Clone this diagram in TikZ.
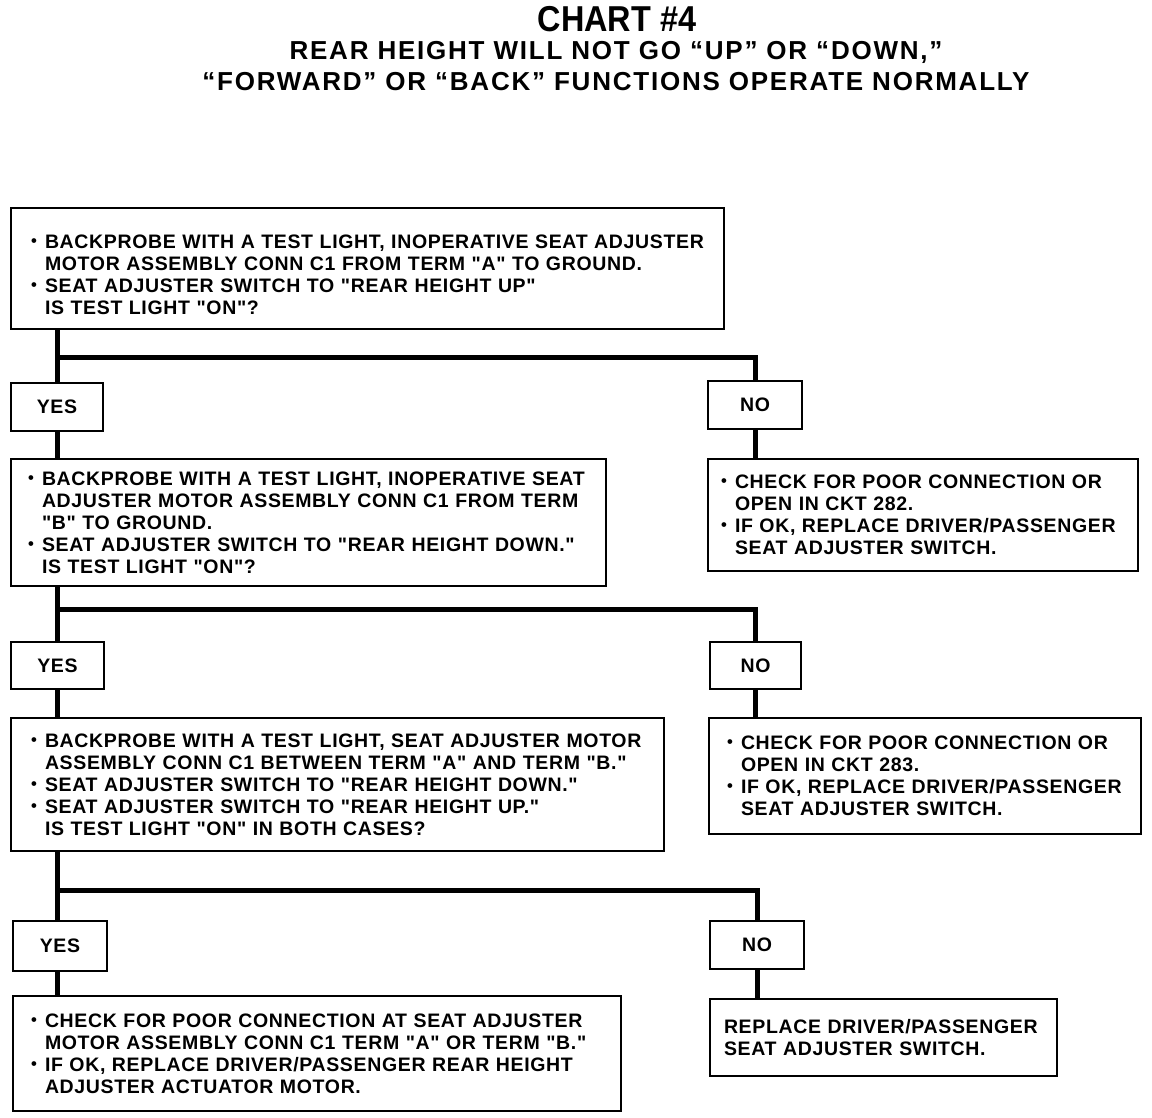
\documentclass[tikz,border=0pt]{standalone}
\usepackage{fontspec}
\setmainfont{Liberation Sans}[Ligatures=TeXOff]
\newfontfamily\bodyf{Liberation Sans}[Ligatures=TeXOff, LetterSpace=3.4]
\newfontfamily\subf{Liberation Sans}[LetterSpace=6.8]
\newcommand{\bl}{\makebox[14pt][l]{\raisebox{2.2pt}{\scalebox{0.85}{\textbullet}}}}
\newcommand{\ind}{\hspace*{14pt}}
\tikzset{
  txtbox/.style={draw, line width=2pt, anchor=north west, inner ysep=0pt, align=left,
    font=\bodyf\bfseries\fontsize{19.5}{22}\selectfont},
  ansbox/.style={draw, line width=2pt, anchor=north west, inner sep=0pt,
    font=\bodyf\bfseries\fontsize{19.5}{22}\selectfont},
  conn/.style={line width=5pt},
  ttl/.style={font=\bfseries\fontsize{36}{40}\selectfont},
  sub/.style={font=\subf\bfseries\fontsize{26}{30}\selectfont}
}
\begin{document}
\begin{tikzpicture}[x=1pt,y=-1pt]
\useasboundingbox (0,0) rectangle (1152,1118);
% titles
\node[ttl, xscale=0.9] (t0) at (617,19) {CHART \#4};
\node[sub] (t1) at (616,52) {REAR HEIGHT WILL NOT GO “UP” OR “DOWN,”};
\node[sub] (t2) at (616,82) {“FORWARD” OR “BACK” FUNCTIONS OPERATE NORMALLY};
% question boxes
\node[txtbox, minimum width=713pt, minimum height=121pt, text width=673pt, inner xsep=20pt] (q1) at (10,207)
  {\rule{0pt}{26pt}\bl BACKPROBE WITH A TEST LIGHT, INOPERATIVE SEAT ADJUSTER\\
   \ind MOTOR ASSEMBLY CONN C1 FROM TERM "A" TO GROUND.\\
   \bl SEAT ADJUSTER SWITCH TO "REAR HEIGHT UP"\\
   \ind IS TEST LIGHT "ON"?};
\node[ansbox, minimum width=92pt, minimum height=48pt] (y1) at (10,382) {YES};
\node[ansbox, minimum width=94pt, minimum height=48pt] (n1) at (707,380) {NO};
\node[txtbox, minimum width=595pt, minimum height=127pt, text width=561pt, inner xsep=17pt] (q2) at (10,458)
  {\bl BACKPROBE WITH A TEST LIGHT, INOPERATIVE SEAT\\
   \ind ADJUSTER MOTOR ASSEMBLY CONN C1 FROM TERM\\
   \ind "B" TO GROUND.\\
   \bl SEAT ADJUSTER SWITCH TO "REAR HEIGHT DOWN."\\
   \ind IS TEST LIGHT "ON"?};
\node[txtbox, minimum width=430pt, minimum height=112pt, text width=404pt, inner xsep=13pt] (a1) at (707,458)
  {\bl CHECK FOR POOR CONNECTION OR\\
   \ind OPEN IN CKT 282.\\
   \bl IF OK, REPLACE DRIVER/PASSENGER\\
   \ind SEAT ADJUSTER SWITCH.};
\node[ansbox, minimum width=93pt, minimum height=47pt] (y2) at (10,641) {YES};
\node[ansbox, minimum width=91pt, minimum height=47pt] (n2) at (709,641) {NO};
\node[txtbox, minimum width=653pt, minimum height=133pt, text width=613pt, inner xsep=20pt] (q3) at (10,717)
  {\bl BACKPROBE WITH A TEST LIGHT, SEAT ADJUSTER MOTOR\\
   \ind ASSEMBLY CONN C1 BETWEEN TERM "A" AND TERM "B."\\
   \bl SEAT ADJUSTER SWITCH TO "REAR HEIGHT DOWN."\\
   \bl SEAT ADJUSTER SWITCH TO "REAR HEIGHT UP."\\
   \ind IS TEST LIGHT "ON" IN BOTH CASES?};
\node[txtbox, minimum width=432pt, minimum height=116pt, text width=396pt, inner xsep=18pt] (a2) at (708,717)
  {\bl CHECK FOR POOR CONNECTION OR\\
   \ind OPEN IN CKT 283.\\
   \bl IF OK, REPLACE DRIVER/PASSENGER\\
   \ind SEAT ADJUSTER SWITCH.};
\node[ansbox, minimum width=94pt, minimum height=50pt] (y3) at (12,920) {YES};
\node[ansbox, minimum width=94pt, minimum height=48pt] (n3) at (709,920) {NO};
\node[txtbox, minimum width=608pt, minimum height=115pt, text width=572pt, inner xsep=18pt] (a4) at (12,995)
  {\bl CHECK FOR POOR CONNECTION AT SEAT ADJUSTER\\
   \ind MOTOR ASSEMBLY CONN C1 TERM "A" OR TERM "B."\\
   \bl IF OK, REPLACE DRIVER/PASSENGER REAR HEIGHT\\
   \ind ADJUSTER ACTUATOR MOTOR.};
\node[txtbox, minimum width=347pt, minimum height=77pt, text width=319pt, inner xsep=14pt] (a3) at (709,998)
  {REPLACE DRIVER/PASSENGER\\
   SEAT ADJUSTER SWITCH.};
% connectors
\coordinate (j1) at (57,357);
\coordinate (j2) at (57,609);
\coordinate (j3) at (57,890);
\draw[conn] (j1 |- q1.south) -- (j1 |- y1.north);
\draw[conn] (j1) -| (n1.north);
\draw[conn] (j1 |- y1.south) -- (j1 |- q2.north);
\draw[conn] (n1.south) -- (n1.south |- a1.north);
\draw[conn] (j2 |- q2.south) -- (j2 |- y2.north);
\draw[conn] (j2) -| (n2.north);
\draw[conn] (j2 |- y2.south) -- (j2 |- q3.north);
\draw[conn] (n2.south) -- (n2.south |- a2.north);
\draw[conn] (j3 |- q3.south) -- (j3 |- y3.north);
\draw[conn] (j3) -| (n3.north);
\draw[conn] (j3 |- y3.south) -- (j3 |- a4.north);
\draw[conn] (n3.south) -- (n3.south |- a3.north);
\end{tikzpicture}
\end{document}
